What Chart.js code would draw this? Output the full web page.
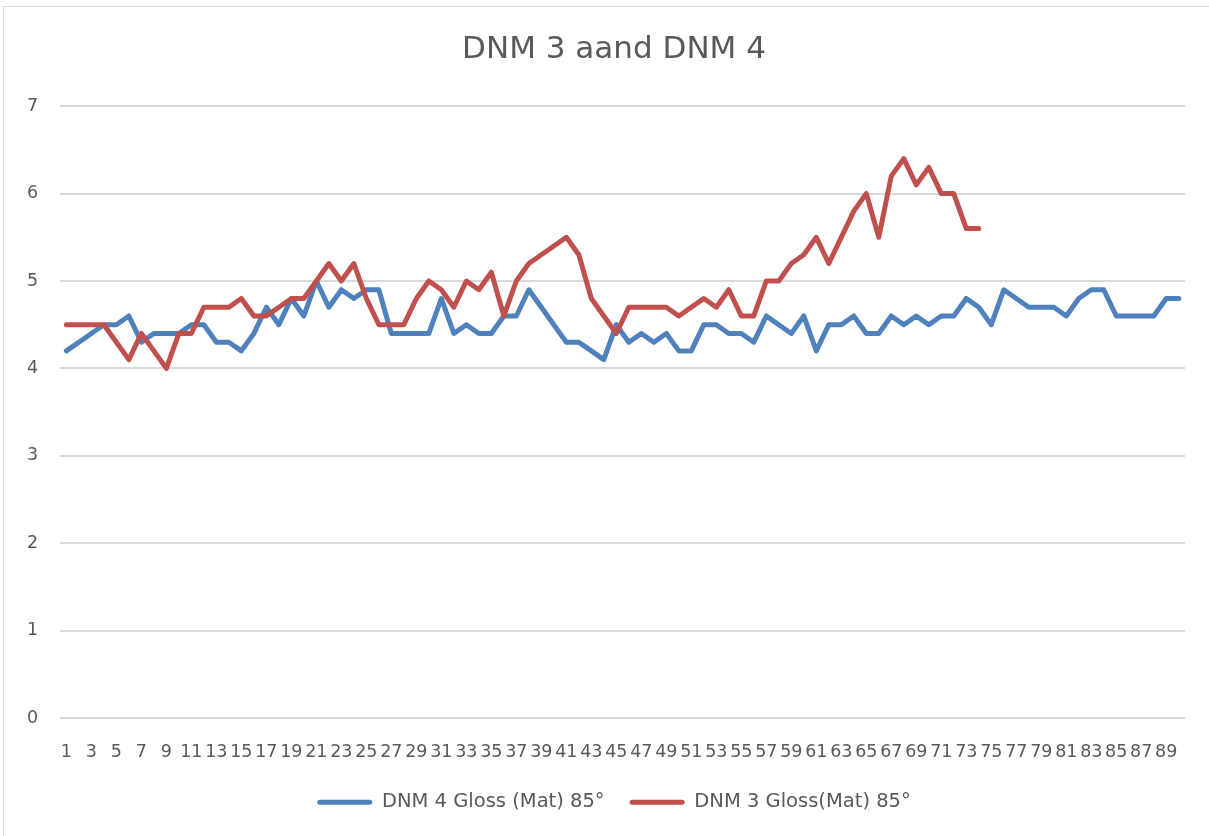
<!DOCTYPE html>
<html>
<head>
<meta charset="utf-8">
<script src="https://cdn.jsdelivr.net/npm/chart.js@4.4.1/dist/chart.umd.min.js"></script>
<style>
    html, body { margin: 0; padding: 0; background: #ffffff; overflow: hidden; }
    #frame { position: absolute; left: 3px; top: 6px; width: 1300px; height: 900px; border: 1px solid #d9d9d9; }
    #wrap { position: absolute; left: 0; top: 0; width: 1209px; height: 836px; }
</style>
</head>
<body>
<div id="frame"></div>
<div id="wrap"><canvas id="chart"></canvas></div>
<script>
// Categories 1..90 (sample number)
const categories = [];
for (let i = 1; i <= 90; i++) categories.push(String(i));

// DNM 4 Gloss (Mat) 85°
const dnm4 = [
    4.2, 4.3, 4.4, 4.5, 4.5, 4.6, 4.3, 4.4, 4.4, 4.4,
    4.5, 4.5, 4.3, 4.3, 4.2, 4.4, 4.7, 4.5, 4.8, 4.6,
    5.0, 4.7, 4.9, 4.8, 4.9, 4.9, 4.4, 4.4, 4.4, 4.4,
    4.8, 4.4, 4.5, 4.4, 4.4, 4.6, 4.6, 4.9, 4.7, 4.5,
    4.3, 4.3, 4.2, 4.1, 4.5, 4.3, 4.4, 4.3, 4.4, 4.2,
    4.2, 4.5, 4.5, 4.4, 4.4, 4.3, 4.6, 4.5, 4.4, 4.6,
    4.2, 4.5, 4.5, 4.6, 4.4, 4.4, 4.6, 4.5, 4.6, 4.5,
    4.6, 4.6, 4.8, 4.7, 4.5, 4.9, 4.8, 4.7, 4.7, 4.7,
    4.6, 4.8, 4.9, 4.9, 4.6, 4.6, 4.6, 4.6, 4.8, 4.8
];

// DNM 3 Gloss(Mat) 85° (only 74 samples)
const dnm3 = [
    4.5, 4.5, 4.5, 4.5, 4.3, 4.1, 4.4, 4.2, 4.0, 4.4,
    4.4, 4.7, 4.7, 4.7, 4.8, 4.6, 4.6, 4.7, 4.8, 4.8,
    5.0, 5.2, 5.0, 5.2, 4.8, 4.5, 4.5, 4.5, 4.8, 5.0,
    4.9, 4.7, 5.0, 4.9, 5.1, 4.6, 5.0, 5.2, 5.3, 5.4,
    5.5, 5.3, 4.8, 4.6, 4.4, 4.7, 4.7, 4.7, 4.7, 4.6,
    4.7, 4.8, 4.7, 4.9, 4.6, 4.6, 5.0, 5.0, 5.2, 5.3,
    5.5, 5.2, 5.5, 5.8, 6.0, 5.5, 6.2, 6.4, 6.1, 6.3,
    6.0, 6.0, 5.6, 5.6
];

const seriesNames = ["DNM 4 Gloss (Mat) 85°", "DNM 3 Gloss(Mat) 85°"];
const yTicks = [0, 1, 2, 3, 4, 5, 6, 7];

const textColor = "#595959";
const gridColor = "#d9d9d9";
const fontFamily = "'DejaVu Sans', sans-serif";

const ctx = document.getElementById("chart").getContext("2d");

new Chart(ctx, {
    type: "line",
    data: {
        labels: categories,
        datasets: [
            {
                label: seriesNames[0],
                data: dnm4,
                borderColor: "#4f81bd",
                backgroundColor: "#4f81bd",
                borderWidth: 5,
                pointRadius: 0,
                tension: 0,
                borderJoinStyle: "round",
                borderCapStyle: "round",
                order: 2
            },
            {
                label: seriesNames[1],
                data: dnm3,
                borderColor: "#c0504d",
                backgroundColor: "#c0504d",
                borderWidth: 5,
                pointRadius: 0,
                tension: 0,
                borderJoinStyle: "round",
                borderCapStyle: "round",
                order: 1
            }
        ]
    },
    options: {
        responsive: true,
        maintainAspectRatio: false,
        animation: false,
        layout: { padding: { left: 23, right: 4, top: 0, bottom: 14 } },
        plugins: {
            title: {
                display: true,
                text: "DNM 3 aand DNM 4",
                color: textColor,
                font: { family: fontFamily, size: 31, weight: "normal" },
                padding: { top: 31, bottom: 38 }
            },
            legend: {
                position: "bottom",
                labels: {
                    color: textColor,
                    font: { family: fontFamily, size: 19.5 },
                    boxWidth: 55,
                    boxHeight: 5,
                    padding: 25,
                    useBorderRadius: true,
                    borderRadius: 2.5,
                    sort: (a, b) => a.datasetIndex - b.datasetIndex,
                    generateLabels: function (chart) {
                        const items = Chart.defaults.plugins.legend.labels.generateLabels(chart);
                        items.forEach(item => {
                            item.lineWidth = 0;
                            item.fillStyle = item.strokeStyle;
                        });
                        return items;
                    }
                }
            },
            tooltip: { enabled: false }
        },
        scales: {
            x: {
                offset: true,
                // no visible vertical lines; tick length only spaces the labels
                grid: { display: false, drawTicks: true, tickLength: 18.5 },
                border: { display: false },
                ticks: {
                    color: textColor,
                    font: { family: fontFamily, size: 17.5 },
                    autoSkip: false,
                    maxRotation: 0,
                    minRotation: 0,
                    padding: 5,
                    callback: function (value, index) {
                        return index % 2 === 0 ? categories[index] : "";
                    }
                }
            },
            y: {
                min: yTicks[0],
                max: yTicks[yTicks.length - 1],
                grid: { color: gridColor, lineWidth: 2, drawTicks: true, tickLength: 18, tickColor: "rgba(0,0,0,0)" },
                border: { display: false },
                ticks: {
                    stepSize: 1,
                    color: textColor,
                    font: { family: fontFamily, size: 17.5 },
                    padding: 4
                }
            },
            // empty right-hand spacer so the title and legend centre like the original
            y2: {
                position: "right",
                display: true,
                grid: { display: false, drawTicks: false },
                border: { display: false },
                ticks: { display: false },
                afterFit: function (scale) {
                    scale.width = 20;
                }
            }
        }
    }
});
</script>
</body>
</html>
